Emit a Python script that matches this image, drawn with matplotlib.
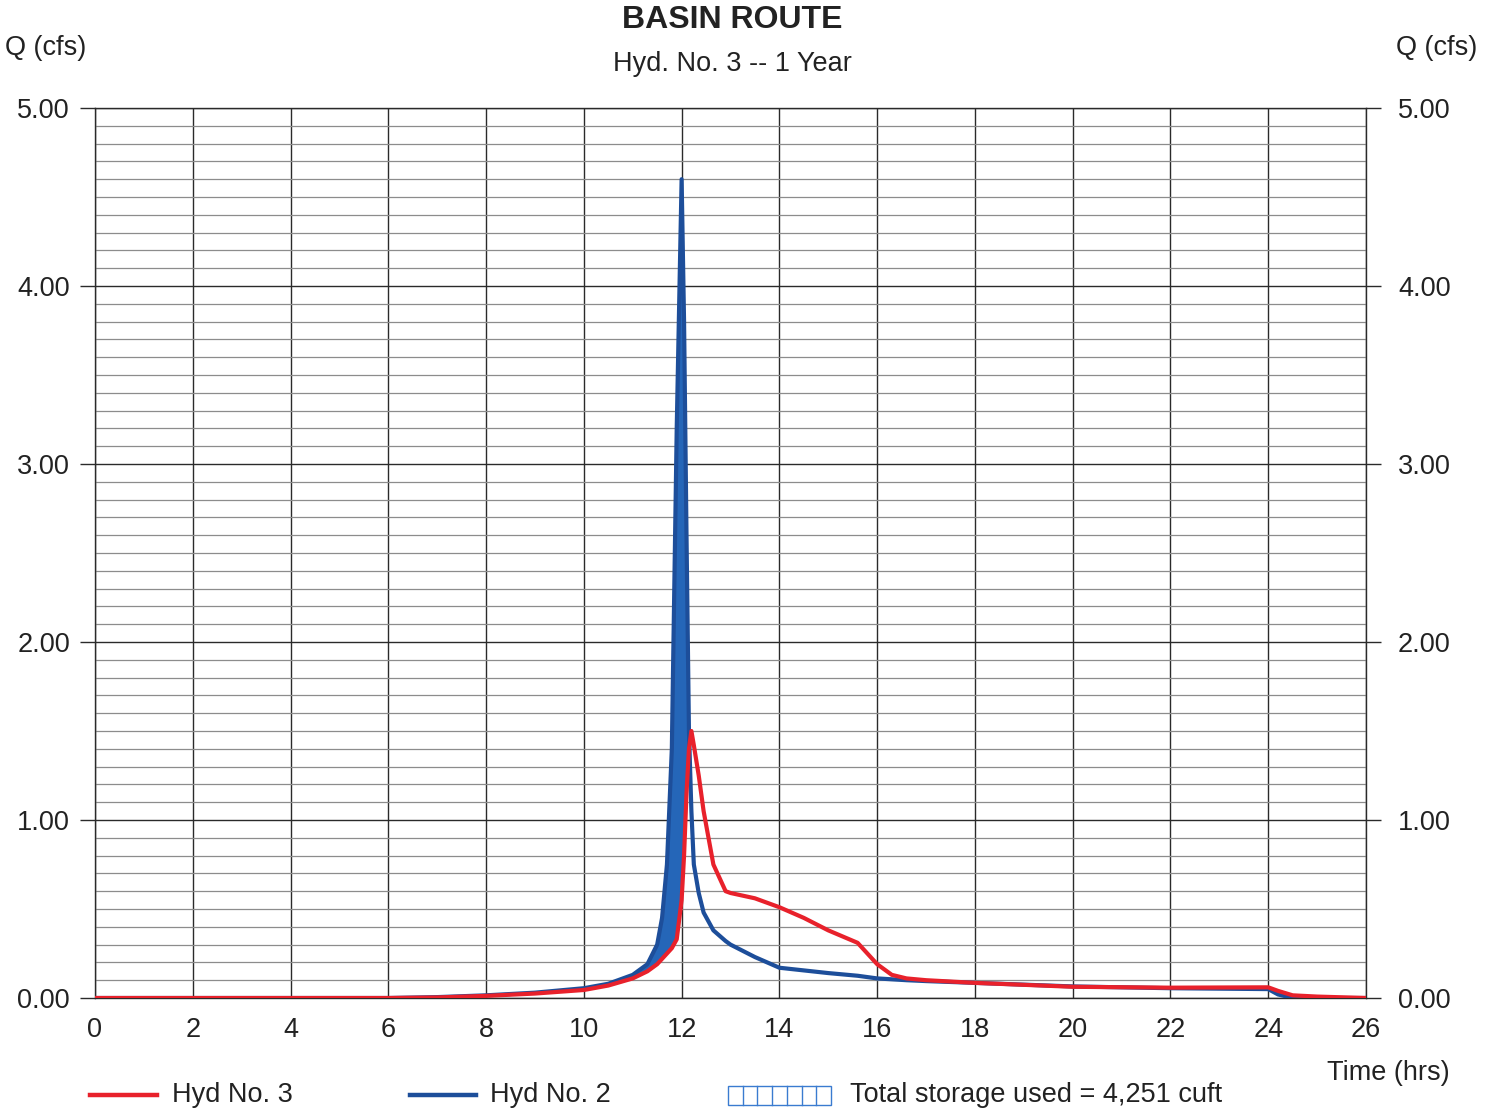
import numpy as np
import matplotlib
matplotlib.use("Agg")
import matplotlib.pyplot as plt
from matplotlib.lines import Line2D
from matplotlib.patches import Rectangle

plt.rcParams.update({
    "font.family": ["Liberation Sans", "DejaVu Sans"],
    "text.color": "#222222",
})

# ---- data ----
time_hrs = [0, 2, 4, 6, 7, 8, 9, 10, 10.5, 11, 11.3, 11.5, 11.6, 11.7, 11.8,
            11.9, 12.0, 12.05, 12.1, 12.15, 12.2, 12.25, 12.35, 12.45, 12.65,
            12.9, 13.0, 13.5, 14.0, 14.5, 15.0, 15.6, 16.0, 16.3, 16.6, 17.0,
            18.0, 20.0, 22.0, 24.0, 24.2, 24.5, 25.0, 26.0]
hyd2_inflow = [0, 0, 0, 0, 0.005, 0.015, 0.03, 0.055, 0.08, 0.13, 0.19, 0.30,
               0.45, 0.75, 1.4, 3.2, 4.60, 3.8, 2.6, 1.5, 1.05, 0.75, 0.59,
               0.48, 0.38, 0.32, 0.30, 0.23, 0.17, 0.155, 0.14, 0.125, 0.11,
               0.105, 0.10, 0.095, 0.085, 0.065, 0.055, 0.05, 0.02, 0.0, 0.0,
               0.0]
hyd3_outflow = [0, 0, 0, 0, 0.003, 0.012, 0.025, 0.045, 0.07, 0.11, 0.15, 0.19,
                0.22, 0.25, 0.28, 0.33, 0.55, 0.8, 1.15, 1.4, 1.5, 1.42, 1.25,
                1.05, 0.75, 0.6, 0.59, 0.56, 0.51, 0.45, 0.38, 0.31, 0.19,
                0.13, 0.11, 0.10, 0.085, 0.063, 0.058, 0.06, 0.04, 0.015,
                0.008, 0.0]
x_ticks = list(range(0, 27, 2))
y_ticks = [0, 1, 2, 3, 4, 5]
storage_cuft = "4,251"

C_RED = "#e8212b"
C_BLUE = "#1d4e9a"
C_FILL = "#2566b8"
C_HATCH = "#3a7bd0"
C_GRID = "#2a2a2a"
C_MINOR = "#8c8c8c"
FS = 19.5

W, H = 1493, 1112
fig = plt.figure(figsize=(W / 100, H / 100), dpi=100)
ax = fig.add_axes([95 / W, 1 - 998 / H, (1366 - 95) / W, (998 - 108) / H])

t = np.array(time_hrs)
q2 = np.array(hyd2_inflow)
q3 = np.array(hyd3_outflow)

ax.set_xlim(0, 26)
ax.set_ylim(0, 5)

# grid
ax.set_xticks(x_ticks)
ax.set_yticks(y_ticks)
ax.set_yticks(np.arange(0, 5.01, 0.1), minor=True)
ax.grid(True, which="major", axis="both", color=C_GRID, linewidth=1.0, zorder=0)
ax.grid(True, which="minor", axis="y", color=C_MINOR, linewidth=0.9, zorder=0)
for s in ax.spines.values():
    s.set_color(C_GRID)
    s.set_linewidth(1.0)

ax.set_yticklabels([f"{v:.2f}" for v in y_ticks])
ax.tick_params(axis="y", which="major", left=True, right=False,
               labelleft=True, length=11, width=1.0,
               color=C_GRID, pad=7, labelsize=FS, labelcolor="#222222")
ax.tick_params(axis="y", which="minor", length=0)
ax.tick_params(axis="x", which="major", length=0, pad=14, labelsize=FS,
               labelcolor="#222222")

# right-hand axis labels (wider gap than the left side)
ax_r = ax.twinx()
ax_r.set_ylim(ax.get_ylim())
ax_r.set_yticks(y_ticks)
ax_r.set_yticklabels([f"{v:.2f}" for v in y_ticks])
ax_r.tick_params(axis="y", length=11, width=1.0, color=C_GRID, pad=12,
                 labelsize=FS, labelcolor="#222222")
for s in ax_r.spines.values():
    s.set_visible(False)

# storage fill + hydrographs
ax.fill_between(t, q3, q2, where=q2 >= q3, interpolate=True,
                color=C_FILL, linewidth=0, zorder=2)
ax.plot(t, q2, color=C_BLUE, linewidth=3.0, zorder=3)
ax.plot(t, q3, color=C_RED, linewidth=3.0, zorder=4)

# titles / axis labels
fig.text(732 / W, 1 - 20 / H, "BASIN ROUTE", ha="center", va="center",
         fontsize=23, fontweight="bold")
fig.text(732 / W, 1 - 64 / H, "Hyd. No. 3 -- 1 Year", ha="center",
         va="center", fontsize=FS)
fig.text(5 / W, 1 - 48 / H, "Q (cfs)", ha="left", va="center", fontsize=FS)
fig.text(1477 / W, 1 - 48 / H, "Q (cfs)", ha="right", va="center",
         fontsize=FS)
fig.text(1450 / W, 1 - 1073 / H, "Time (hrs)", ha="right", va="center",
         fontsize=FS)

# legend drawn by hand in figure pixels
ly = 1 - 1095 / H
fig.add_artist(Line2D([90 / W, 157 / W], [ly, ly], color=C_RED, linewidth=3.2))
fig.text(172 / W, ly, "Hyd No. 3", ha="left", va="center", fontsize=FS)
fig.add_artist(Line2D([410 / W, 476 / W], [ly, ly], color=C_BLUE,
                      linewidth=3.2))
fig.text(490 / W, ly, "Hyd No. 2", ha="left", va="center", fontsize=FS)
bx0, bx1, by0, by1 = 728, 831, 1086, 1105
fig.add_artist(Rectangle((bx0 / W, 1 - by1 / H), (bx1 - bx0) / W,
                         (by1 - by0) / H, transform=fig.transFigure,
                         facecolor="white", edgecolor=C_HATCH, linewidth=1.0))
for k in range(1, 7):
    xx = (bx0 + k * (bx1 - bx0) / 7) / W
    fig.add_artist(Line2D([xx, xx], [1 - by1 / H, 1 - by0 / H],
                          color=C_HATCH, linewidth=1.0))
fig.text(850 / W, ly, f"Total storage used = {storage_cuft} cuft",
         ha="left", va="center", fontsize=FS)

fig.savefig("out.png", dpi=100)
